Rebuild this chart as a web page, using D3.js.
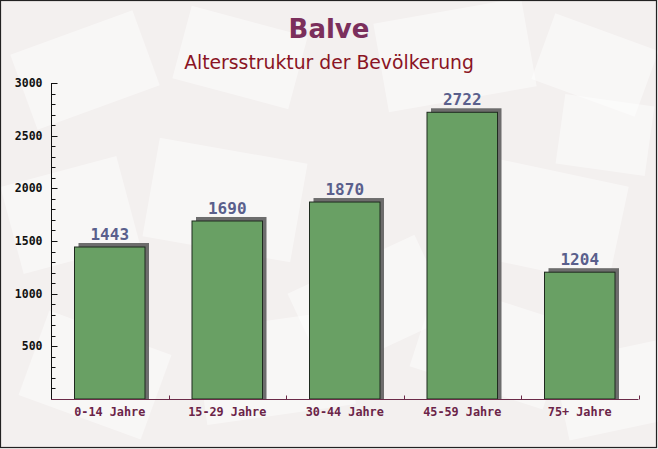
<!DOCTYPE html>
<html><head><meta charset="utf-8">
<script src="https://cdn.jsdelivr.net/npm/d3@7"></script>
<style>html,body{margin:0;padding:0;background:#fff}svg{display:block}</style>
</head><body>
<svg id="c" width="658" height="449"></svg>
<script>
const categories = ["0-14 Jahre","15-29 Jahre","30-44 Jahre","45-59 Jahre","75+ Jahre"];
const values = [1443,1690,1870,2722,1204];
const yTicks = [500,1000,1500,2000,2500,3000];
const title = "Balve";
const subtitle = "Altersstruktur der Bevölkerung";

const W=658,H=449;
const svg=d3.select("#c");
svg.append("rect").attr("width",W).attr("height",H).attr("fill","#f3f0ef");
// faint envelope decoration
const env=[[20,30,130,80,-20],[180,20,120,75,15],[380,10,150,90,-10],[540,30,110,70,20],
[10,170,120,90,-15],[150,150,150,100,10],[300,260,140,90,-25],[470,170,150,100,12],
[30,330,130,90,20],[200,320,150,95,-8],[420,300,140,90,18],[560,350,110,80,-12],[560,100,90,70,8]];
const eg=svg.append("g");
env.forEach(e=>{
  eg.append("rect").attr("x",e[0]).attr("y",e[1]).attr("width",e[2]).attr("height",e[3])
   .attr("fill","#ffffff").attr("opacity",0.45)
   .attr("transform",`rotate(${e[4]},${e[0]+e[2]/2},${e[1]+e[3]/2})`);
});
svg.append("rect").attr("x",0.5).attr("y",0.5).attr("width",W-2).attr("height",H-2)
  .attr("fill","none").attr("stroke","#222").attr("stroke-width",1.2);

const x=d3.scaleBand().domain(categories).range([51,638.5]).paddingInner(0.4).paddingOuter(0.2);
const y=d3.scaleLinear().domain([0,3000]).range([399,83]);

svg.append("text").attr("x",329).attr("y",38).attr("text-anchor","middle")
  .attr("font-family","DejaVu Sans").attr("font-weight","bold").attr("font-size",26)
  .attr("fill","#7b2f5c").text(title);
svg.append("text").attr("x",329).attr("y",69).attr("text-anchor","middle")
  .attr("font-family","DejaVu Sans").attr("font-size",18.8)
  .attr("fill","#8a1424").text(subtitle);

const g=svg.append("g");
// shadows
g.selectAll("rect.sh").data(values).enter().append("rect").attr("class","sh")
  .attr("x",(d,i)=>x(categories[i])+4).attr("y",d=>y(d)-4)
  .attr("width",x.bandwidth()).attr("height",d=>399-y(d)+4)
  .attr("fill","#555").attr("opacity",0.85);
g.selectAll("rect.bar").data(values).enter().append("rect").attr("class","bar")
  .attr("x",(d,i)=>x(categories[i])).attr("y",d=>y(d))
  .attr("width",x.bandwidth()).attr("height",d=>399-y(d))
  .attr("fill","#69a064").attr("stroke","#1e2a1e").attr("stroke-width",1);
g.selectAll("text.v").data(values).enter().append("text").attr("class","v")
  .attr("x",(d,i)=>x(categories[i])+x.bandwidth()/2).attr("y",d=>y(d)-7)
  .attr("text-anchor","middle").attr("font-family","DejaVu Sans Mono").attr("font-weight","bold")
  .attr("font-size",16).attr("fill","#5a5f8c").text(d=>d);

// y axis
const ya=svg.append("g").attr("transform","translate(51.5,0)");
ya.append("line").attr("y1",83).attr("y2",399).attr("stroke","#111");
d3.range(100,3001,100).forEach(v=>{
  ya.append("line").attr("x1",0).attr("x2",v%500===0?6:4).attr("y1",Math.round(y(v))+0.5).attr("y2",Math.round(y(v))+0.5).attr("stroke","#111");
});
ya.selectAll("text").data(yTicks).enter().append("text").attr("x",-9).attr("y",d=>y(d)+4)
  .attr("text-anchor","end").attr("font-family","DejaVu Sans Mono").attr("font-weight","bold")
  .attr("font-size",11.5).attr("fill","#111").text(d=>d);

// x axis
const xa=svg.append("g").attr("transform","translate(0,399.5)");
xa.append("line").attr("x1",51).attr("x2",638.5).attr("stroke","#6b2a48");
const bounds=categories.map(c=>x(c)-x.step()*x.paddingInner()/2).slice(1).concat([638.5]);
bounds.forEach(b=>xa.append("line").attr("x1",Math.round(b)+0.5).attr("x2",Math.round(b)+0.5).attr("y1",0).attr("y2",-4).attr("stroke","#6b2a48"));
xa.selectAll("text").data(categories).enter().append("text")
  .attr("x",d=>x(d)+x.bandwidth()/2).attr("y",16).attr("text-anchor","middle")
  .attr("font-family","DejaVu Sans Mono").attr("font-weight","bold").attr("font-size",11.8)
  .attr("fill","#6b2448").text(d=>d);
</script></body></html>
